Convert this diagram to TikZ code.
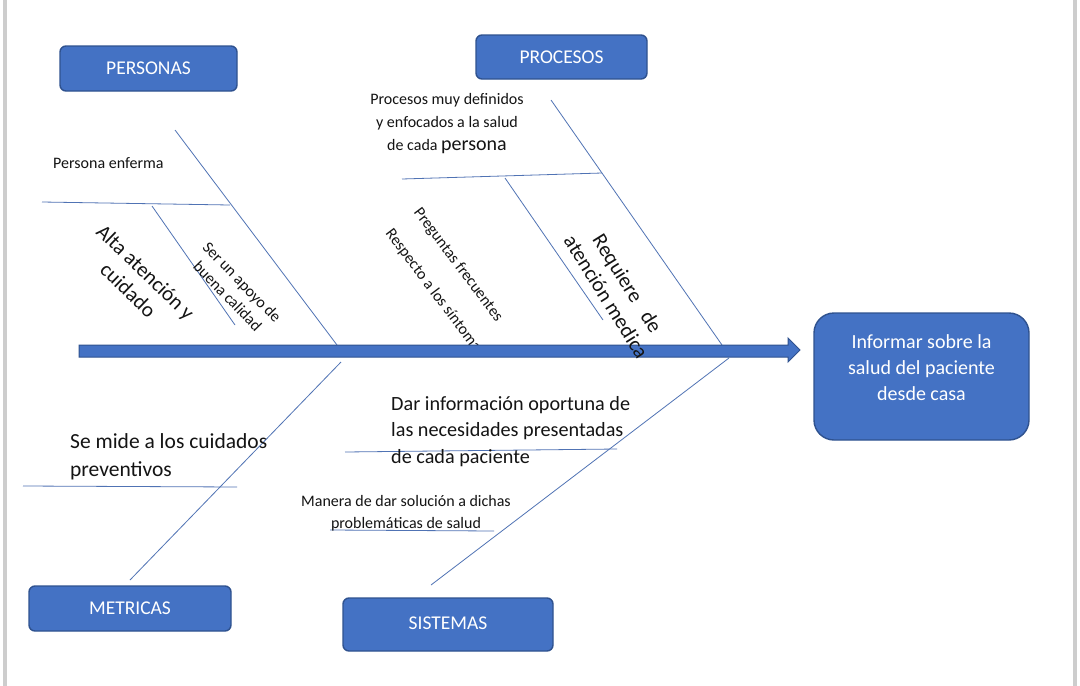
\documentclass[tikz,border=0pt]{standalone}
\usepackage{fontspec}
\setmainfont{Carlito}
\definecolor{fillblue}{RGB}{68,114,196}
\definecolor{bordblue}{RGB}{47,82,143}
\definecolor{linblue}{RGB}{80,115,180}
\definecolor{framegray}{RGB}{205,205,205}
\definecolor{txt}{RGB}{20,20,20}
\newcommand{\fs}[1]{\fontsize{#1}{20}\selectfont}
\begin{document}
\begin{tikzpicture}[x=1pt,y=-1pt,
  catbox/.style={draw=bordblue, fill=fillblue, line width=1.4pt, rounded corners=6pt,
    text=white, font=\fontsize{19.5}{23}\selectfont, inner sep=0pt},
  bone/.style={draw=linblue, line width=0.8pt},
  lbl/.style={text=txt, inner sep=0pt},
]
\useasboundingbox (0,0) rectangle (1080,686);
\fill[white] (0,0) rectangle (1080,686);
% frame side lines
\fill[framegray] (3,0) rectangle (7,686);
\fill[framegray] (1073,0) rectangle (1077,686);

% category boxes
\node[catbox, minimum width=177pt, minimum height=45pt] (personas) at (148.5,68.5) {\raisebox{-1pt}{PERSONAS}};
\node[catbox, minimum width=171pt, minimum height=44pt] (procesos) at (561.5,57) {\raisebox{-1pt}{PROCESOS}};
\node[catbox, minimum width=202pt, minimum height=45pt] (metricas) at (130,608.5) {\raisebox{-1pt}{METRICAS}};
\node[catbox, minimum width=210pt, minimum height=53pt] (sistemas) at (448,624.5) {\raisebox{2pt}{SISTEMAS}};
\node[catbox, rounded corners=20pt, minimum width=215pt, minimum height=127pt] (res) at (921.5,376.5) {};
\node[text=white, inner sep=0pt, align=center, font=\fontsize{20}{26}\selectfont] (restext) at (921.5,368)
  {Informar sobre la\\salud del paciente\\desde casa};

% coordinates for bones
\coordinate (pA) at (175,130); \coordinate (pB) at (337,345);
\coordinate (pH1) at (42,202); \coordinate (pH2) at (230,205);
\coordinate (pS1) at (152,206); \coordinate (pS2) at (235,325);
\coordinate (rA) at (551,100); \coordinate (rB) at (722,345);
\coordinate (rH1) at (402,179); \coordinate (rH2) at (602,173);
\coordinate (rS1) at (505,178); \coordinate (rS2) at (603,320);
\coordinate (mA) at (341,362); \coordinate (mB) at (130,580);
\coordinate (mH1) at (23,486); \coordinate (mH2) at (237,487);
\coordinate (sA) at (729,358); \coordinate (sB) at (431,585);
\coordinate (sH1) at (345,452); \coordinate (sH2) at (617,449);
\coordinate (sU1) at (330,530); \coordinate (sU2) at (494,531);

\draw[bone] (pA) -- (pB);
\draw[bone] (pH1) -- (pH2);
\draw[bone] (pS1) -- (pS2);
\draw[bone] (rA) -- (rB);
\draw[bone] (rH1) -- (rH2);
\draw[bone] (rS1) -- (rS2);
\draw[bone] (mA) -- (mB);
\draw[bone] (mH1) -- (mH2);
\draw[bone] (sA) -- (sB);
\draw[bone] (sH1) -- (sH2);
\draw[bone] (sU1) -- (sU2);

% texts
\node[lbl, anchor=west, font=\fs{16}] (t1) at (53,163) {Persona enferma};
\node[lbl, rotate=-44, align=center, font=\fontsize{21}{25}\selectfont] (t2) at (137,281) {Alta atención y\\cuidado};
\node[lbl, rotate=-46, align=center, font=\fontsize{16}{20}\selectfont] (t3) at (235,289) {Ser un apoyo de\\buena calidad};
\node[lbl, rotate=-53, font=\fs{16}] (t4) at (458,265) {Preguntas frecuentes};
\node[lbl, rotate=-53, font=\fs{16}] (t5) at (435,293) {Respecto a los síntomas};
\node[lbl, align=center, font=\fontsize{16}{23}\selectfont] (t6) at (447,124)
  {Procesos muy definidos\\y enfocados a la salud\\de cada {\fontsize{20}{23}\selectfont persona}};
\node[lbl, anchor=north west, align=left, font=\fontsize{20.2}{26.5}\selectfont] (t8) at (391,396)
  {Dar información oportuna de\\las necesidades presentadas\\de cada paciente};
\node[lbl, anchor=north west, align=left, font=\fontsize{21.5}{28}\selectfont] (t9) at (70,433)
  {Se mide a los cuidados\\preventivos};
\node[lbl, align=center, font=\fontsize{16}{22}\selectfont] (t10) at (406,513)
  {Manera de dar solución a dichas\\problemáticas de salud};

% spine (block arrow) toward the result
\coordinate (spine0) at (79,351);
\coordinate (tip) at (800,350);
\filldraw[fill=fillblue, draw=bordblue, line width=1pt]
  (79,345) -- (788,345) -- (788,338) -- (tip) -- (788,362) -- (788,357) -- (79,357) -- cycle;

\node[lbl, rotate=-58, align=center, font=\fontsize{21}{25}\selectfont] (t7) at (617,290) {Requiere \ \ de\\atención medica};
\end{tikzpicture}
\end{document}
